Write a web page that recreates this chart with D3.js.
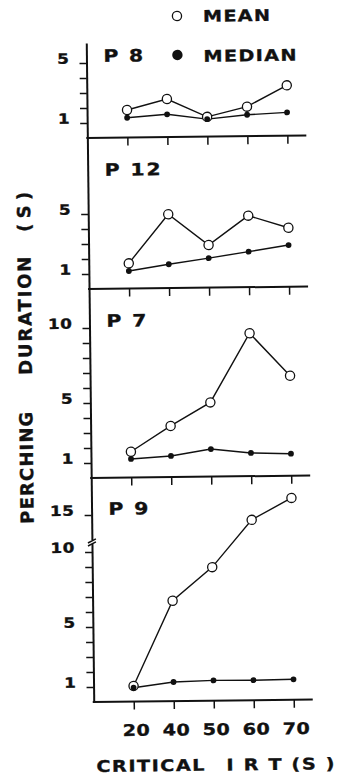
<!DOCTYPE html>
<html>
<head>
<meta charset="utf-8">
<script src="https://cdn.jsdelivr.net/npm/d3@7"></script>
<style>
  body { margin: 0; background: #fff; }
  text { font-family: "DejaVu Sans", sans-serif; font-weight: bold; fill: #111; stroke: #111; stroke-width: 0.35px; }
</style>
</head>
<body>
<script>
// critical IRT (s) on x, perching duration (s) on y, one panel per bird
const irt = ["20", "40", "50", "60", "70"];

const p8Mean = [1.84, 2.54, 1.32, 1.97, 3.36];
const p8Median = [1.32, 1.52, 1.17, 1.43, 1.56];

const p12Mean = [1.68, 4.92, 2.84, 4.77, 3.93];
const p12Median = [1.17, 1.59, 1.97, 2.37, 2.78];

const p7Mean = [1.72, 3.41, 4.95, 9.53, 6.67];
const p7Median = [1.24, 1.41, 1.84, 1.55, 1.47];

const p9Mean = [1.04, 6.69, 8.9, 14.1, 17.0];
const p9Median = [0.92, 1.27, 1.35, 1.33, 1.36];

const ticksSmall = [1, 2, 3, 4, 5];
const ticksMid = [1, 2, 3, 4, 5, 6, 7, 8, 9, 10];
const ticksBroken = [1, 2, 3, 4, 5, 6, 7, 8, 9, 10, 15];

const width = 338, height = 779;
const axisX = 90, axisRight = 309;
const unit = 15; // px per second on the linear parts
const wide = 1.2; // the lettering in the scan is an extended face

const svg = d3.select("body").append("svg")
    .attr("width", width)
    .attr("height", height);

// the scanned figure sits slightly tilted
const g = svg.append("g").attr("transform", "rotate(-0.65,90,372)");

const x = d3.scalePoint().domain(irt).range([130, 290]);

function linY(top, base) {
    return d3.scaleLinear().domain([0, (base - top) / unit]).range([base, top]);
}

// plain text placed by translate + horizontal stretch
function label(parent, tx, ty, str, size, len) {
    const t = parent.append("text")
        .attr("transform", `translate(${tx},${ty}) scale(${wide},1)`)
        .style("font-size", size + "px")
        .text(str);
    if (len) t.attr("textLength", len / wide).attr("lengthAdjust", "spacing");
    return t;
}

const panels = [
    { name: "P 8", mean: p8Mean, median: p8Median, ticks: ticksSmall, labels: [1, 5],
      y: linY(43, 138), nameY: 62 },
    { name: "P 12", mean: p12Mean, median: p12Median, ticks: ticksSmall, labels: [1, 5],
      y: linY(138, 289), nameY: 176 },
    { name: "P 7", mean: p7Mean, median: p7Median, ticks: ticksMid, labels: [1, 5, 10],
      y: linY(289, 478), nameY: 327 },
    { name: "P 9", mean: p9Mean, median: p9Median, ticks: ticksBroken, labels: [1, 5, 10, 15],
      y: d3.scaleLinear().domain([0, 10, 15, 20]).range([702, 552, 515, 478]), nameY: 515 }
];

panels.forEach((p, k) => {
    const last = k === panels.length - 1;
    const base = p.y(0);
    const pg = g.append("g");

    // y axis
    const ya = pg.append("g")
        .attr("transform", `translate(${axisX},0)`)
        .call(d3.axisLeft(p.y)
            .tickValues(p.ticks)
            .tickSize(7)
            .tickSizeOuter(0)
            .tickPadding(10)
            .tickFormat(d => p.labels.includes(d) ? d : ""));
    ya.attr("font-family", null).attr("font-size", null);
    ya.select(".domain").attr("stroke-width", 2).attr("stroke", "#111");
    ya.selectAll(".tick line").attr("stroke-width", 1.5).attr("stroke", "#111");
    ya.selectAll(".tick text")
        .attr("dy", "0")
        .attr("x", -17 / wide)
        .attr("transform", `scale(${wide},1)`)
        .style("font-size", "14px")
        .style("letter-spacing", "0.5px");

    // x axis
    const xa = pg.append("g")
        .attr("transform", `translate(0,${base})`)
        .call(d3.axisBottom(x)
            .tickSize(8)
            .tickSizeOuter(0)
            .tickPadding(15)
            .tickFormat(d => last ? d : ""));
    xa.attr("font-family", null).attr("font-size", null);
    xa.select(".domain").remove();
    xa.selectAll(".tick line").attr("stroke-width", 1.5).attr("stroke", "#111");
    xa.selectAll(".tick text")
        .attr("transform", `translate(2,0) scale(${wide},1)`)
        .style("font-size", "16px")
        .style("letter-spacing", "0.5px");
    xa.append("line")
        .attr("x1", axisX - 1)
        .attr("x2", axisRight)
        .attr("stroke", "#111")
        .attr("stroke-width", 2);

    const line = d3.line()
        .x((d, i) => x(irt[i]))
        .y(d => p.y(d));

    pg.append("path")
        .datum(p.mean)
        .attr("d", line)
        .attr("fill", "none")
        .attr("stroke", "#111")
        .attr("stroke-width", 1.4);

    pg.append("path")
        .datum(p.median)
        .attr("d", line)
        .attr("fill", "none")
        .attr("stroke", "#111")
        .attr("stroke-width", 1.4);

    pg.selectAll(".mean")
        .data(p.mean)
        .enter().append("circle")
        .attr("class", "mean")
        .attr("cx", (d, i) => x(irt[i]))
        .attr("cy", d => p.y(d))
        .attr("r", 4.6)
        .attr("fill", "#fff")
        .attr("stroke", "#111")
        .attr("stroke-width", 1.3);

    pg.selectAll(".median")
        .data(p.median)
        .enter().append("circle")
        .attr("class", "median")
        .attr("cx", (d, i) => x(irt[i]))
        .attr("cy", d => p.y(d))
        .attr("r", 2.9)
        .attr("fill", "#111");

    label(pg, 107, p.nameY, p.name, 17).style("letter-spacing", "1.5px");

    if (last) {
        // axis break between 10 and 15
        const yb = 542;
        pg.append("rect")
            .attr("x", axisX - 2).attr("y", yb - 2)
            .attr("width", 4).attr("height", 4)
            .attr("fill", "#fff");
        pg.append("path")
            .attr("d", `M${axisX - 4},${yb + 1}L${axisX + 4},${yb - 3}M${axisX - 4},${yb + 4}L${axisX + 4},${yb}`)
            .attr("stroke", "#111")
            .attr("stroke-width", 1.5)
            .attr("fill", "none");
    }
});

// legend
g.append("circle").attr("cx", 181).attr("cy", 17).attr("r", 4.6)
    .attr("fill", "#fff").attr("stroke", "#111").attr("stroke-width", 1.3);
label(g, 207, 23, "MEAN", 16, 67);
g.append("circle").attr("cx", 181).attr("cy", 56).attr("r", 5.2).attr("fill", "#111");
label(g, 207, 63, "MEDIAN", 16, 93);

// x title, two pieces so the gap after CRITICAL stays wide
label(g, 92, 772, "CRITICAL", 16, 108);
label(g, 222, 772, "I R T (S )", 16, 108);

// y title, in three pieces
const yTitle = [
    { t: "PERCHING", c: 467, len: 112 },
    { t: "DURATION", c: 315, len: 118 },
    { t: "( S )", c: 211, len: 40 }
];
g.selectAll(".ytitle")
    .data(yTitle)
    .enter().append("text")
    .attr("class", "ytitle")
    .attr("transform", d => `translate(32,${d.c}) rotate(-90)`)
    .attr("text-anchor", "middle")
    .attr("textLength", d => d.len)
    .attr("lengthAdjust", "spacing")
    .style("font-size", "18px")
    .text(d => d.t);
</script>
</body>
</html>
